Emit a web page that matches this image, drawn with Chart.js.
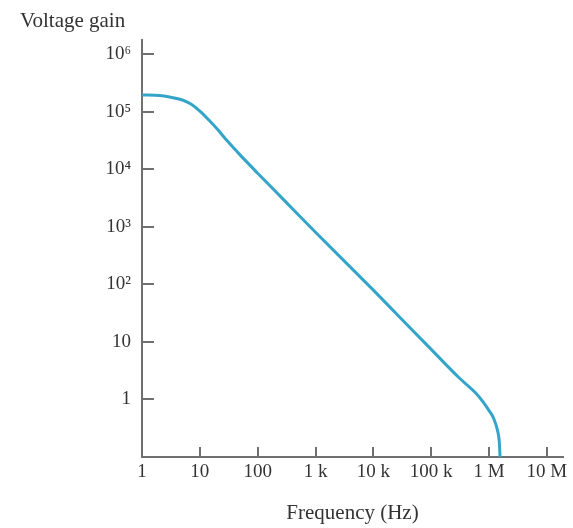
<!DOCTYPE html>
<html>
<head>
<meta charset="utf-8">
<script src="https://cdn.jsdelivr.net/npm/chart.js@4/dist/chart.umd.min.js"></script>
<style>
  body { margin: 0; background: #fff; }
  #grafico { display: block; }
</style>
</head>
<body>
<canvas id="grafico" width="573" height="528"></canvas>
<script>
// datos
const freqs = [1, 2, 3, 5, 7, 10, 15, 20, 30, 50, 100, 300, 1e3, 3e3, 1e4, 3e4, 1e5, 3e5, 6e5, 8e5, 1e6, 1.2e6, 1.4e6, 1.5e6, 1.55e6];
const gains = [1.94e5, 1.9e5, 1.79e5, 1.59e5, 1.35e5, 1.02e5, 6.8e4, 4.97e4, 3.07e4, 1.75e4, 8.5e3, 2.76e3, 800, 265, 79, 25.5, 7.4, 2.4, 1.27, 0.89, 0.64, 0.47, 0.29, 0.19, 0.1];

const xTicks = [1, 10, 100, 1e3, 1e4, 1e5, 1e6, 1e7];
const xLabels = ['1', '10', '100', '1 k', '10 k', '100 k', '1 M', '10 M'];
const yTicks = [1, 10, 100, 1e3, 1e4, 1e5, 1e6];
const yLabels = ['1', '10', '10²', '10³', '10⁴', '10⁵', '10⁶'];

const colorEje = '#707070';
const fuente = 'Liberation Serif';

// marcas hacia adentro y titulo del eje y
const marcasPlugin = {
    id: 'marcas',
    afterDraw(chart) {
        const ctx = chart.ctx;
        const xs = chart.scales.x;
        const ys = chart.scales.y;
        ctx.save();
        ctx.strokeStyle = colorEje;
        ctx.lineWidth = 2;
        xTicks.forEach(v => {
            if (v === xTicks[0]) return;
            const px = Math.round(xs.getPixelForValue(v));
            ctx.beginPath();
            ctx.moveTo(px, ys.bottom);
            ctx.lineTo(px, ys.bottom - 10);
            ctx.stroke();
        });
        yTicks.forEach(v => {
            const py = Math.round(ys.getPixelForValue(v));
            ctx.beginPath();
            ctx.moveTo(xs.left, py);
            ctx.lineTo(xs.left + 12, py);
            ctx.stroke();
        });
        ctx.fillStyle = '#333';
        ctx.font = `21px "${fuente}"`;
        ctx.textBaseline = 'middle';
        ctx.fillText('Voltage gain', 20, 21);
        ctx.restore();
    }
};

const datos = freqs.map((f, i) => ({ x: f, y: gains[i] }));

new Chart(document.getElementById('grafico'), {
    type: 'line',
    data: {
        datasets: [{
            data: datos,
            borderColor: '#34a5c8',
            borderWidth: 3,
            pointRadius: 0,
            cubicInterpolationMode: 'monotone',
            fill: false,
        }],
    },
    options: {
        responsive: false,
        animation: false,
        layout: { padding: { left: 0, top: 40, right: 10, bottom: 0 } },
        plugins: { legend: { display: false }, tooltip: { enabled: false } },
        scales: {
            x: {
                type: 'logarithmic',
                min: 1,
                max: 1.9e7,
                grid: { display: false, drawTicks: false },
                border: { display: true, color: colorEje, width: 2 },
                afterBuildTicks: scale => { scale.ticks = xTicks.map(v => ({ value: v })); },
                afterFit: scale => { scale.height = 71; },
                ticks: {
                    color: '#333',
                    padding: 4,
                    maxRotation: 0,
                    autoSkip: false,
                    font: { family: fuente, size: 19 },
                    callback: (v) => xLabels[xTicks.indexOf(v)] ?? '',
                },
                title: {
                    display: true,
                    text: 'Frequency (Hz)',
                    color: '#333',
                    font: { family: fuente, size: 21 },
                    padding: { top: 0, bottom: 2 },
                },
            },
            y: {
                type: 'logarithmic',
                min: 0.1,
                max: 1.75e6,
                grid: { display: false, drawTicks: false },
                border: { display: true, color: colorEje, width: 2 },
                afterBuildTicks: scale => { scale.ticks = yTicks.map(v => ({ value: v })); },
                afterFit: scale => { scale.width = 142; },
                ticks: {
                    color: '#333',
                    padding: 11,
                    autoSkip: false,
                    font: { family: fuente, size: 19 },
                    callback: (v) => yLabels[yTicks.indexOf(v)] ?? '',
                },
            },
        },
    },
    plugins: [marcasPlugin],
});
</script>
</body>
</html>
